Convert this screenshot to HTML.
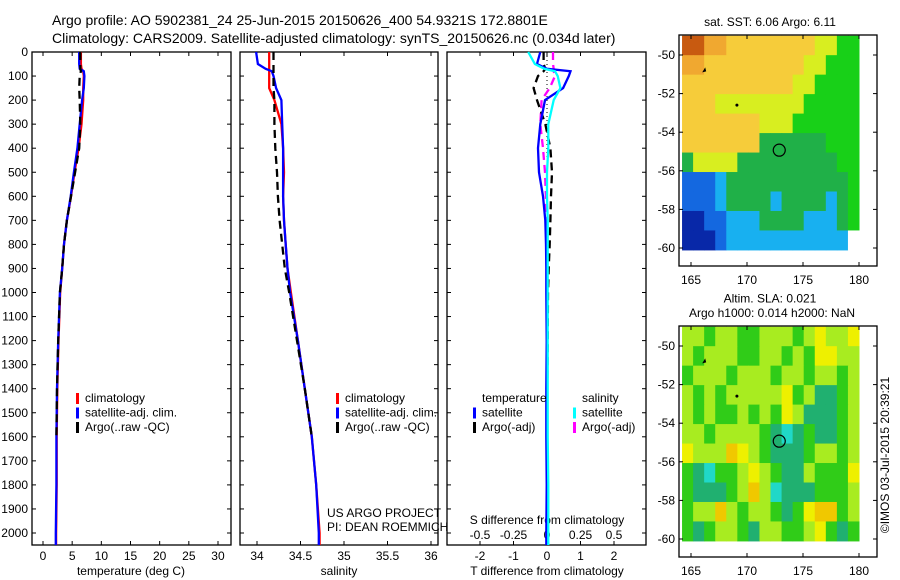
<!DOCTYPE html>
<html><head><meta charset="utf-8"><style>
body{margin:0;background:#fff;}
svg{display:block;font-family:"Liberation Sans",sans-serif;}
text{fill:#000;}
</style></head><body>
<svg id="fig" width="900" height="580" viewBox="0 0 900 580">
<text x="52" y="25" font-size="14">Argo profile: AO 5902381_24 25-Jun-2015 20150626_400 54.9321S 172.8801E</text>
<text x="52" y="43" font-size="14">Climatology: CARS2009. Satellite-adjusted climatology: synTS_20150626.nc (0.034d later)</text>
<g id="plots"></g>
</svg>
<script>
// ---- data ----
const tDepth = [0,50,70,80,100,150,200,300,400,500,600,700,800,900,1000,1200,1400,1600,1800,2000,2050];
const tClim  = [6.5,6.5,6.6,6.9,7.0,6.9,6.9,6.6,6.1,5.4,4.8,4.1,3.6,3.3,2.95,2.65,2.45,2.35,2.35,2.25,2.25];
const tSat   = [6.2,6.2,6.3,7.0,7.1,7.0,6.7,6.3,5.9,5.3,4.75,4.1,3.6,3.3,2.9,2.6,2.4,2.3,2.3,2.2,2.2];
const tArgo  = [6.4,6.4,6.4,6.5,6.3,6.2,6.3,6.4,6.2,5.5,4.8,4.1,3.6,3.3,2.9,2.6,2.4,2.3];
const sDepth = tDepth;
const sClim  = [34.14,34.14,34.14,34.14,34.14,34.14,34.20,34.28,34.30,34.31,34.30,34.31,34.33,34.35,34.39,34.47,34.55,34.63,34.68,34.72,34.72];
const sSat   = [33.99,34.01,34.10,34.17,34.19,34.22,34.28,34.29,34.30,34.30,34.30,34.31,34.33,34.35,34.38,34.47,34.55,34.63,34.68,34.71,34.71];
const sArgo  = [34.19,34.19,34.19,34.19,34.19,34.19,34.20,34.20,34.21,34.23,34.24,34.26,34.29,34.32,34.37,34.46,34.55,34.63];
const dTSat  = [-0.2,-0.3,0.0,0.7,0.65,0.48,-0.06,-0.2,-0.27,-0.24,-0.12,-0.05,-0.03,-0.02,-0.02,-0.01,-0.02,-0.02,-0.01,-0.02,-0.02];
const dSSat  = [-0.14,-0.09,-0.02,0.06,0.08,0.10,0.05,0.01,0.01,0.0,0.0,0.005,0.005,0.005,0.005,0.005,0.005,0.005,0.01,0.01,0.01];
const dTArgo = [-0.1,-0.1,-0.05,-0.1,-0.27,-0.4,-0.3,-0.05,0.1,0.15,0.12,0.1,0.08,0.05,0.03,0.02,0.01,0.0];
const dSArgo = [0.045,0.045,0.05,0.05,0.06,0.02,-0.04,-0.05,-0.03,-0.015,-0.008,-0.005,-0.003,-0.003,-0.002,0.0,0.0,0.0];
const depthTicks = [0,100,200,300,400,500,600,700,800,900,1000,1100,1200,1300,1400,1500,1600,1700,1800,1900,2000];
const tempTicks = [0,5,10,15,20,25,30];
const salTicks = [34,34.5,35,35.5,36];
const salTickLabels = ['34','34.5','35','35.5','36'];
const tdTicks = [-2,-1,0,1,2];
const sdTicks = [-0.5,-0.25,0,0.25,0.5];
const sdTickLabels = ['-0.5','-0.25','0','0.25','0.5'];
const lonTicks = [165,170,175,180];
const latTicks = [-50,-52,-54,-56,-58,-60];
const sstGrid = [
"OOooyyyyyyyyYYgg","ooyyyyyyyyyYYggg","yyyyyyyyyyYYgggg","yyyYYYYYYYYggggg",
"yyyyyyyYYYgggggg","yyyyyyyGGGGGGggg","GYYYYGGGGGGGGGgg","bbbcGGGGGGGGGGGg",
"bbbcGGGGcGGGGcGg","BBbbcccGGGGcccGg","BBBbcccccccccccw"];
const slaGrid = [
"llgllgglllglylly","lglllggllglgyyll","glllglllgllgllgl","lglglllllyglttgl",
"lglgglglgyltttgl","llgllllgtctgttgl","yllloylgtttgllgl","gtcgglylgttlgggy",
"gtttglolctttgggl","gllolgllgtgyoogl","gtgllgtllgglygtg"];
const sstColors = {O:'#c85a10',o:'#f0a830',y:'#f6cc3a',Y:'#d8ee20',g:'#18d018',G:'#20b048',c:'#18b0f0',b:'#1468e0',B:'#0828a8',w:'#ffffff'};
const slaColors = {g:'#30cc18',l:'#a8ec20',y:'#eef000',o:'#f0c800',t:'#20b070',c:'#20d8c8'};
const floatLon = 172.88, floatLat = -54.93;

// ---- drawing ----
const NS='http://www.w3.org/2000/svg';
const root=document.getElementById('plots');
function mk(tag,attrs,parent){const e=document.createElementNS(NS,tag);for(const k in attrs)e.setAttribute(k,attrs[k]);(parent||root).appendChild(e);return e;}
const yTop=52,yBot=545;
const yD=d=>yTop+d*0.2405;
const panels=[{x0:32,x1:231},{x0:240,x1:438},{x0:447,x1:646}];
const xT=v=>43+v*5.833;
const xS=v=>257+(v-34)*87;
const xTD=v=>547+v*33.5;
const xSD=v=>547+v*134;

panels.forEach((p,i)=>{
  const r=mk('rect',{x:p.x0,y:yTop,width:p.x1-p.x0,height:yBot-yTop,fill:'none',stroke:'#000','stroke-width':1.3});
  
  
  depthTicks.forEach(d=>{
    const y=yD(d);
    mk('line',{x1:p.x0,x2:p.x0+4,y1:y,y2:y,stroke:'#000'});
    mk('line',{x1:p.x1,x2:p.x1-4,y1:y,y2:y,stroke:'#000'});
  });
});
depthTicks.forEach(d=>{
  const t=mk('text',{x:28,y:yD(d)+4,'font-size':12,'text-anchor':'end'});t.textContent=d;
  
  
});
function xticks(vals,labels,fx,ly,top,bottom){
  vals.forEach((v,i)=>{
    const x=fx(v);
    if(bottom) mk('line',{x1:x,x2:x,y1:yBot,y2:yBot-4,stroke:'#000'});
    if(top) mk('line',{x1:x,x2:x,y1:yTop,y2:yTop+4,stroke:'#000'});
    if(labels){const t=mk('text',{x:x,y:ly,'font-size':12,'text-anchor':'middle'});t.textContent=labels[i];
      
      }
  });
}
xticks(tempTicks,tempTicks.map(String),xT,560,true,true);
xticks(salTicks,salTickLabels,xS,560,true,true);
xticks(tdTicks,tdTicks.map(String),xTD,560,true,true);
xticks(sdTicks,sdTickLabels,xSD,539,false,false);
function label(x,y,s,name,anchor,size){const t=mk('text',{x:x,y:y,'font-size':size||12,'text-anchor':anchor||'middle'});t.textContent=s;
  
  return t;}
label(131,575,'temperature (deg C)','temperature-axis-title');
label(339,575,'salinity','salinity-axis-title');
label(547,575,'T difference from climatology','t-diff-axis-title');
label(547,524,'S difference from climatology','s-diff-axis-title');
label(327,517,'US ARGO PROJECT','pi-credit-1','start');
label(327,531,'PI: DEAN ROEMMICH','pi-credit-2','start');

function line(xs,ds,fx,color,name,dash,w){
  const pts=xs.map((v,i)=>fx(v).toFixed(1)+','+yD(ds[i]).toFixed(1)).join(' ');
  const a={points:pts,fill:'none',stroke:color,'stroke-width':w||2.3};
  if(dash)a['stroke-dasharray']=dash;
  const e=mk('polyline',a);
  
  
}
line(tClim,tDepth,xT,'#ff0000','temp-climatology-line');
line(tSat,tDepth,xT,'#0000ff','temp-satellite-line');
line(tArgo,tDepth.slice(0,tArgo.length),xT,'#000','temp-argo-line','8,5');
line(sClim,sDepth,xS,'#ff0000','sal-climatology-line');
line(sSat,sDepth,xS,'#0000ff','sal-satellite-line');
line(sArgo,sDepth.slice(0,sArgo.length),xS,'#000','sal-argo-line','8,5');
mk('line',{x1:547,x2:547,y1:yTop,y2:yD(700),stroke:'#000','stroke-dasharray':'1,3'});
line(dSArgo,tDepth.slice(0,dSArgo.length),xSD,'#ff00ff','sdiff-argo-line','8,5');
line(dTArgo,tDepth.slice(0,dTArgo.length),xTD,'#000','tdiff-argo-line','8,5');
line(dTSat,tDepth,xTD,'#0000ff','tdiff-satellite-line');
line(dSSat,tDepth,xSD,'#00ffff','sdiff-satellite-line');

function legend(x,y,items,name){
  items.forEach((it,i)=>{
    const yy=y+i*14.5;
    mk('rect',{x:x-9,y:yy-9,width:3,height:11,fill:it[1]});
    const t=mk('text',{x:x,y:yy,'font-size':12});t.textContent=it[0];
    
    
  });
}
legend(85,402,[['climatology','#f00'],['satellite-adj. clim.','#00f'],['Argo(..raw -QC)','#000']],'temp-legend');
legend(345,402,[['climatology','#f00'],['satellite-adj. clim.','#00f'],['Argo(..raw -QC)','#000']],'sal-legend');
label(482,402,'temperature','tdiff-legend-title','start');
legend(482,416.5,[['satellite','#00f'],['Argo(-adj)','#000']],'tdiff-legend');
label(582,402,'salinity','sdiff-legend-title','start');
legend(582,416.5,[['satellite','#0ff'],['Argo(-adj)','#f0f']],'sdiff-legend');

// maps
const xLon=l=>691+(l-165)*11.2;
function map(top,latY0,grid,colors,name,title){
  const yLat=l=>latY0+(-50-l)*19.3;
  const g=mk('g',{});
  
  
  const rows=grid.length, cols=grid[0].length;
  const lon0=164.2,lon1=180.0,lat0=-49.0,lat1=-60.1;
  for(let r=0;r<rows;r++)for(let c=0;c<cols;c++){
    const la=lat0+(lat1-lat0)*r/rows, lb=lat0+(lat1-lat0)*(r+1)/rows;
    const lo=lon0+(lon1-lon0)*c/cols, lp=lon0+(lon1-lon0)*(c+1)/cols;
    mk('rect',{x:xLon(lo),y:yLat(la),width:xLon(lp)-xLon(lo)+0.5,height:yLat(lb)-yLat(la)+0.5,fill:colors[grid[r][c]]},g);
  }
  mk('rect',{x:679,y:top,width:198,height:231,fill:'none',stroke:'#000','stroke-width':1.3},g);
  lonTicks.forEach(l=>{const x=xLon(l);
    mk('line',{x1:x,x2:x,y1:top,y2:top+4,stroke:'#000'},g);
    mk('line',{x1:x,x2:x,y1:top+231,y2:top+227,stroke:'#000'},g);
    const t=mk('text',{x:x,y:top+249,'font-size':12,'text-anchor':'middle'},g);t.textContent=l;
    
    
  });
  latTicks.forEach(l=>{const y=yLat(l);
    mk('line',{x1:679,x2:683,y1:y,y2:y,stroke:'#000'},g);
    mk('line',{x1:877,x2:873,y1:y,y2:y,stroke:'#000'},g);
    const t=mk('text',{x:675,y:y+4,'font-size':12,'text-anchor':'end'},g);t.textContent=l;
    
    
  });
  mk('path',{d:`M${xLon(166)},${yLat(-50.9)} l3,-5 l1,4 z`,fill:'#000'},g);
  mk('circle',{cx:xLon(169.1),cy:yLat(-52.6),r:1.5,fill:'#000'},g);
  const c=mk('circle',{cx:xLon(floatLon),cy:yLat(floatLat),r:6,fill:'none',stroke:'#000','stroke-width':1.2},g);
  
  
  title.forEach((s,i)=>{const t=mk('text',{x:i?772:770,y:top-9-(title.length-1-i)*14.5,'font-size':12,'text-anchor':'middle'},g);t.textContent=s;
    
    });
}
map(35,55,sstGrid,sstColors,'sst-map',['sat. SST: 6.06 Argo: 6.11']);
map(326,346,slaGrid,slaColors,'sla-map',['Altim. SLA: 0.021','Argo h1000: 0.014 h2000: NaN']);
const im=mk('text',{x:0,y:0,'font-size':12,'text-anchor':'middle',transform:'translate(889,455) rotate(-90)'});
im.textContent='©IMOS 03-Jul-2015 20:39:21';


</script>
</body></html>
